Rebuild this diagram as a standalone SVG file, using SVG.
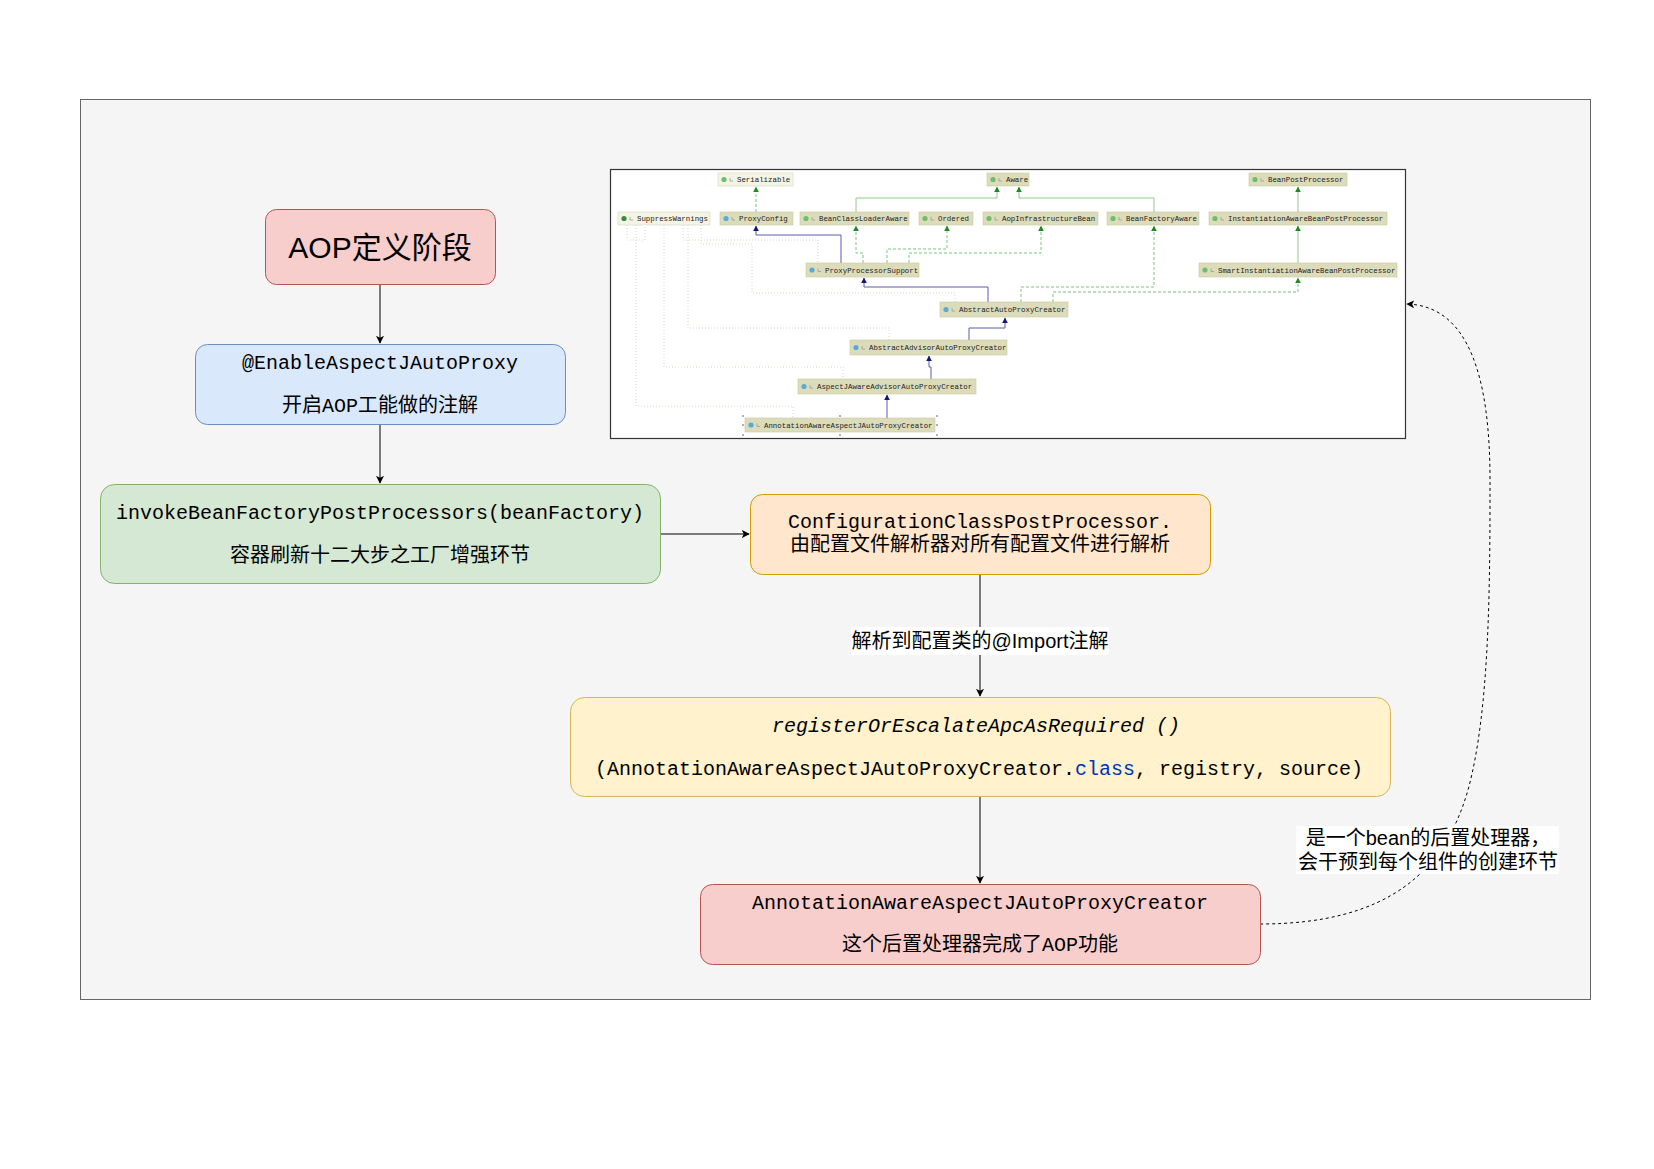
<svg xmlns="http://www.w3.org/2000/svg" width="1654" height="1169" viewBox="0 0 1654 1169">
<style>
.mono{font-family:"Liberation Mono","Noto Sans CJK SC",monospace;font-size:20px;fill:#000;}
.sans{font-family:"Liberation Sans","Noto Sans CJK SC",sans-serif;fill:#000;}
.node{stroke-width:1;}
.edge{stroke:#000;stroke-width:1;fill:none;}
.cls{font-family:"Liberation Mono",monospace;font-size:7.4px;fill:#222;}
.kb{fill:#dcdcba;stroke:#c8c8a4;stroke-width:0.6;}
.pb{fill:#f4f4e4;stroke:#d8d8c0;stroke-width:0.6;}
.gd{stroke:#7cc27c;stroke-width:1;fill:none;stroke-dasharray:3 2;}
.gs{stroke:#8ccc8c;stroke-width:1;fill:none;}
.bl{stroke:#5a5ab0;stroke-width:1;fill:none;}
.dt{stroke:#d8d8c4;stroke-width:1;fill:none;stroke-dasharray:1 2;}
.ig{fill:#6cbf6c;}
.ic{fill:#5aaad8;}
.ia{fill:#3a8a3a;}
.lk{stroke:#999;stroke-width:0.8;fill:none;}
</style>
<defs>
<marker id="arr" viewBox="0 0 10 10" refX="9" refY="5" markerWidth="8" markerHeight="8" orient="auto" markerUnits="userSpaceOnUse">
<path d="M0,0 L10,5 L0,10 L2.5,5 Z" fill="#000"/>
</marker>
<marker id="ga" viewBox="0 0 10 10" refX="9" refY="5" markerWidth="6" markerHeight="6" orient="auto" markerUnits="userSpaceOnUse">
<path d="M0,0 L10,5 L0,10 Z" fill="#1f8a1f"/>
</marker>
<marker id="ba" viewBox="0 0 10 10" refX="9" refY="5" markerWidth="6" markerHeight="6" orient="auto" markerUnits="userSpaceOnUse">
<path d="M0,0 L10,5 L0,10 Z" fill="#14147a"/>
</marker>
</defs>

<rect x="0" y="0" width="1654" height="1169" fill="#ffffff"/>
<g id="container">
<rect x="80.5" y="99.5" width="1510" height="900" fill="#f5f5f5" stroke="#666666"/>
</g>

<g id="class-diagram">
<rect x="610.5" y="169.5" width="795" height="269" fill="#ffffff" stroke="#333333" stroke-width="1.2"/>
<path class="dt" d="M636,225 V406 H793 V418"/>
<path class="dt" d="M627,225 V240 H645 V225"/>
<path class="dt" d="M664,225 V367 H843 V379"/>
<path class="dt" d="M688,225 V328 H889 V340"/>
<path class="dt" d="M701,225 V244 H752 V293 H955 V302"/>
<path class="dt" d="M683,225 V240 H818 V263"/>
<path class="gd" d="M756,212 V187" marker-end="url(#ga)"/>
<path class="gd" d="M863,263 V253 H856 V226" marker-end="url(#ga)"/>
<path class="gd" d="M887,263 V249 H947 V226" marker-end="url(#ga)"/>
<path class="gd" d="M909,263 V253 H1041 V226" marker-end="url(#ga)"/>
<path class="gd" d="M1021,302 V287 H1154 V226" marker-end="url(#ga)"/>
<path class="gd" d="M1053,302 V292 H1298 V278" marker-end="url(#ga)"/>
<path class="gs" d="M856,212 V198 H997 V187" marker-end="url(#ga)"/>
<path class="gs" d="M1154,212 V198 H1019 V187" marker-end="url(#ga)"/>
<path class="gs" d="M1298,212 V187" marker-end="url(#ga)"/>
<path class="gs" d="M1298,263 V226" marker-end="url(#ga)"/>
<path class="bl" d="M841,263 V235 H756 V226" marker-end="url(#ba)"/>
<path class="bl" d="M988,302 V287 H864 V278" marker-end="url(#ba)"/>
<path class="bl" d="M969,340 V328 H1005 V318" marker-end="url(#ba)"/>
<path class="bl" d="M931,379 V367 H929 V356" marker-end="url(#ba)"/>
<path class="bl" d="M887,418 V395" marker-end="url(#ba)"/>

<g id="c-serializable"><rect class="pb" x="718" y="173" width="75" height="13"/><circle class="ig" cx="724" cy="179.5" r="2.6"/><path class="lk" d="M730,178 v3 h3"/><text class="cls" x="737" y="182">Serializable</text></g>
<g id="c-aware"><rect class="kb" x="987" y="173" width="42" height="13"/><circle class="ig" cx="993" cy="179.5" r="2.6"/><path class="lk" d="M999,178 v3 h3"/><text class="cls" x="1006" y="182">Aware</text></g>
<g id="c-bpp"><rect class="kb" x="1249" y="173" width="98" height="13"/><circle class="ig" cx="1255" cy="179.5" r="2.6"/><path class="lk" d="M1261,178 v3 h3"/><text class="cls" x="1268" y="182">BeanPostProcessor</text></g>

<g id="c-sw"><rect class="pb" x="618" y="212" width="92" height="13"/><circle class="ia" cx="624" cy="218.5" r="2.6"/><path class="lk" d="M630,217 v3 h3"/><text class="cls" x="637" y="221">SuppressWarnings</text></g>
<g id="c-proxyconfig"><rect class="kb" x="720" y="212" width="73" height="13"/><circle class="ic" cx="726" cy="218.5" r="2.6"/><path class="lk" d="M732,217 v3 h3"/><text class="cls" x="739" y="221">ProxyConfig</text></g>
<g id="c-bcla"><rect class="kb" x="800" y="212" width="109" height="13"/><circle class="ig" cx="806" cy="218.5" r="2.6"/><path class="lk" d="M812,217 v3 h3"/><text class="cls" x="819" y="221">BeanClassLoaderAware</text></g>
<g id="c-ordered"><rect class="kb" x="919" y="212" width="54" height="13"/><circle class="ig" cx="925" cy="218.5" r="2.6"/><path class="lk" d="M931,217 v3 h3"/><text class="cls" x="938" y="221">Ordered</text></g>
<g id="c-aib"><rect class="kb" x="983" y="212" width="115" height="13"/><circle class="ig" cx="989" cy="218.5" r="2.6"/><path class="lk" d="M995,217 v3 h3"/><text class="cls" x="1002" y="221">AopInfrastructureBean</text></g>
<g id="c-bfa"><rect class="kb" x="1107" y="212" width="92" height="13"/><circle class="ig" cx="1113" cy="218.5" r="2.6"/><path class="lk" d="M1119,217 v3 h3"/><text class="cls" x="1126" y="221">BeanFactoryAware</text></g>
<g id="c-iabpp"><rect class="kb" x="1209" y="212" width="178" height="13"/><circle class="ig" cx="1215" cy="218.5" r="2.6"/><path class="lk" d="M1221,217 v3 h3"/><text class="cls" x="1228" y="221">InstantiationAwareBeanPostProcessor</text></g>

<g id="c-pps"><rect class="kb" x="806" y="263" width="113" height="14"/><circle class="ic" cx="812" cy="270" r="2.6"/><path class="lk" d="M818,268.5 v3 h3"/><text class="cls" x="825" y="272.5">ProxyProcessorSupport</text></g>
<g id="c-siabpp"><rect class="kb" x="1199" y="263" width="198" height="14"/><circle class="ig" cx="1205" cy="270" r="2.6"/><path class="lk" d="M1211,268.5 v3 h3"/><text class="cls" x="1218" y="272.5">SmartInstantiationAwareBeanPostProcessor</text></g>

<g id="c-aapc"><rect class="kb" x="940" y="302" width="128" height="15"/><circle class="ic" cx="946" cy="309.5" r="2.6"/><path class="lk" d="M952,308 v3 h3"/><text class="cls" x="959" y="312">AbstractAutoProxyCreator</text></g>
<g id="c-aadvapc"><rect class="kb" x="850" y="340" width="157" height="15"/><circle class="ic" cx="856" cy="347.5" r="2.6"/><path class="lk" d="M862,346 v3 h3"/><text class="cls" x="869" y="350">AbstractAdvisorAutoProxyCreator</text></g>
<g id="c-ajaapc"><rect class="kb" x="798" y="379" width="178" height="15"/><circle class="ic" cx="804" cy="386.5" r="2.6"/><path class="lk" d="M810,385 v3 h3"/><text class="cls" x="817" y="389">AspectJAwareAdvisorAutoProxyCreator</text></g>
<g id="c-aaajapc"><rect class="kb" x="745" y="418" width="190" height="14" stroke="#d8c890"/><circle class="ic" cx="751" cy="425" r="2.6"/><path class="lk" d="M757,423.5 v3 h3"/><text class="cls" x="764" y="428">AnnotationAwareAspectJAutoProxyCreator</text>
<g fill="#b0b0b0"><rect x="742" y="415" width="2" height="2"/><rect x="839" y="415" width="2" height="2"/><rect x="936" y="415" width="2" height="2"/><rect x="742" y="424" width="2" height="2"/><rect x="936" y="424" width="2" height="2"/><rect x="742" y="434" width="2" height="2"/><rect x="839" y="434" width="2" height="2"/><rect x="936" y="434" width="2" height="2"/></g></g>
</g>

<g id="connectors">
<path class="edge" d="M380,284 V343" marker-end="url(#arr)"/>
<path class="edge" d="M380,424 V483" marker-end="url(#arr)"/>
<path class="edge" d="M660,534 H749" marker-end="url(#arr)"/>
<path class="edge" d="M980,574 V696" marker-end="url(#arr)"/>
<path class="edge" d="M980,796 V883" marker-end="url(#arr)"/>
<path class="edge" d="M1260,924 C1390,924 1445,870 1468,790 C1490,710 1490,580 1490,480 C1490,380 1470,306 1407,304" stroke-dasharray="3 3" marker-end="url(#arr)"/>
<g id="label-import">
<rect x="851" y="627" width="258" height="28" fill="#ffffff"/>
<text class="sans" x="980" y="641" font-size="20" text-anchor="middle" dominant-baseline="central">解析到配置类的@Import注解</text>
</g>
<g id="label-bean">
<rect x="1296" y="826" width="263" height="48" fill="#ffffff"/>
<text class="sans" x="1428" y="838" font-size="20" text-anchor="middle" dominant-baseline="central">是一个bean的后置处理器，</text>
<text class="sans" x="1428" y="862" font-size="20" text-anchor="middle" dominant-baseline="central">会干预到每个组件的创建环节</text>
</g>
</g>

<g id="n-aop">
<rect class="node" x="265.5" y="209.5" width="230" height="75" rx="11" fill="#f8cecc" stroke="#b85450"/>
<text class="sans" x="380" y="247" font-size="30" text-anchor="middle" dominant-baseline="central">AOP定义阶段</text>
</g>
<g id="n-enable">
<rect class="node" x="195.5" y="344.5" width="370" height="80" rx="12" fill="#dae8fc" stroke="#6c8ebf"/>
<text class="mono" x="380" y="363" text-anchor="middle" dominant-baseline="central">@EnableAspectJAutoProxy</text>
<text class="mono" x="380" y="406" text-anchor="middle" dominant-baseline="central">开启AOP工能做的注解</text>
</g>
<g id="n-invoke">
<rect class="node" x="100.5" y="484.5" width="560" height="99" rx="14" fill="#d5e8d4" stroke="#82b366"/>
<text class="mono" x="380" y="513" text-anchor="middle" dominant-baseline="central">invokeBeanFactoryPostProcessors(beanFactory)</text>
<text class="mono" x="380" y="556" text-anchor="middle" dominant-baseline="central">容器刷新十二大步之工厂增强环节</text>
</g>
<g id="n-config">
<rect class="node" x="750.5" y="494.5" width="460" height="80" rx="12" fill="#ffe6cc" stroke="#d79b00"/>
<text class="mono" x="980" y="522" text-anchor="middle" dominant-baseline="central">ConfigurationClassPostProcessor.</text>
<text class="mono" x="980" y="545" text-anchor="middle" dominant-baseline="central">由配置文件解析器对所有配置文件进行解析</text>
</g>
<g id="n-register">
<rect class="node" x="570.5" y="697.5" width="820" height="99" rx="14" fill="#fff2cc" stroke="#d6b656"/>
<text class="mono" x="976" y="726" text-anchor="middle" dominant-baseline="central" font-style="italic">registerOrEscalateApcAsRequired ()</text>
<text class="mono" x="979" y="769" text-anchor="middle" dominant-baseline="central">(AnnotationAwareAspectJAutoProxyCreator.<tspan fill="#0033b3">class</tspan>, registry, source)</text>
</g>
<g id="n-creator">
<rect class="node" x="700.5" y="884.5" width="560" height="80" rx="12" fill="#f8cecc" stroke="#b85450"/>
<text class="mono" x="980" y="903" text-anchor="middle" dominant-baseline="central">AnnotationAwareAspectJAutoProxyCreator</text>
<text class="mono" x="980" y="945" text-anchor="middle" dominant-baseline="central">这个后置处理器完成了AOP功能</text>
</g>
</svg>
